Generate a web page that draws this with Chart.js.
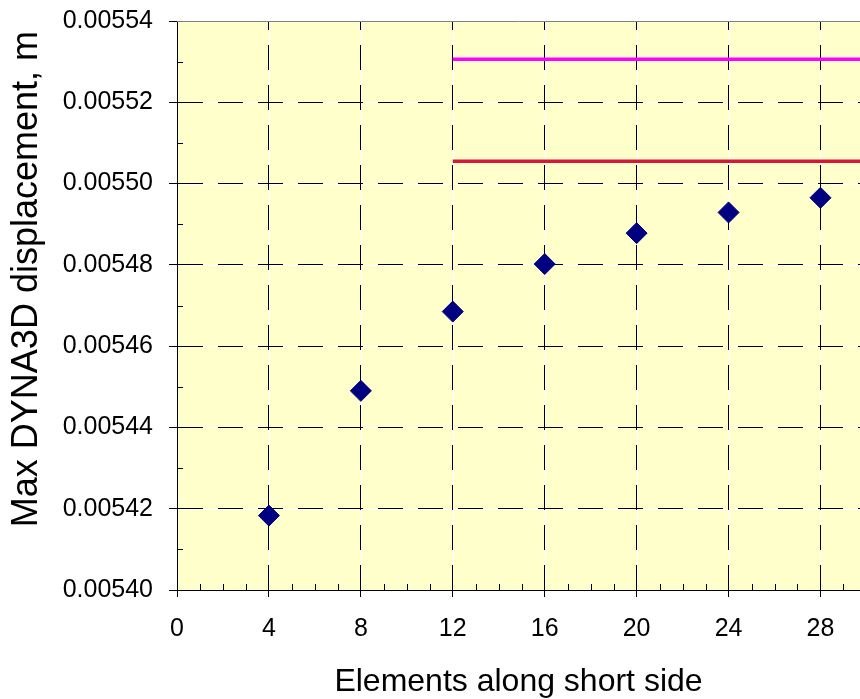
<!DOCTYPE html>
<html>
<head>
<meta charset="utf-8">
<script src="https://cdn.jsdelivr.net/npm/chart.js@4/dist/chart.umd.min.js"></script>
<style>
html,body{margin:0;padding:0;background:#ffffff;overflow:hidden;}
#wrap{width:860px;height:699px;}
canvas{display:block;}
</style>
</head>
<body>
<div id="wrap"><canvas id="c" width="860" height="699"></canvas></div>
<script>
// ---- data ----
const elements = [4, 8, 12, 16, 20, 24, 28];
const maxDisp = [0.0054183, 0.0054490, 0.0054685, 0.0054802, 0.0054878, 0.0054929, 0.0054965];
const refLineX = [12, 32];
const refUpper = [0.0055306, 0.0055306];
const refLower = [0.0055055, 0.0055055];
const xTicks = [0, 4, 8, 12, 16, 20, 24, 28];
const xMinor = [1, 2, 3, 5, 6, 7, 9, 10, 11, 13, 14, 15, 17, 18, 19, 21, 22, 23, 25, 26, 27, 29];
const yTicks = [0.00540, 0.00542, 0.00544, 0.00546, 0.00548, 0.00550, 0.00552, 0.00554];
const yMinor = [0.00541, 0.00543, 0.00545, 0.00547, 0.00549, 0.00551, 0.00553];
const xLabel = 'Elements along short side';
const yLabel = 'Max DYNA3D displacement, m';

const FONT = 'Liberation Sans, Arial, Helvetica, sans-serif';
Chart.defaults.font.family = FONT;
Chart.defaults.color = '#000000';

const plotDecor = {
  id: 'plotDecor',
  beforeDraw(chart) {
    const {ctx, chartArea: a, scales: {x, y}} = chart;
    ctx.save();
    ctx.fillStyle = '#FFFFCC';
    ctx.fillRect(a.left, a.top, a.right - a.left, a.bottom - a.top);
    ctx.strokeStyle = '#FFFFFF';
    ctx.lineWidth = 1;
    ctx.beginPath();
    xTicks.forEach(v => {
      const px = Math.round(x.getPixelForValue(v)) + 0.5;
      ctx.moveTo(px, a.top); ctx.lineTo(px, a.bottom);
    });
    yTicks.forEach(v => {
      const py = Math.round(y.getPixelForValue(v)) + 0.5;
      ctx.moveTo(a.left, py); ctx.lineTo(a.right, py);
    });
    ctx.stroke();
    ctx.restore();
  },
  afterDraw(chart) {
    const {ctx, chartArea: a, scales: {x, y}} = chart;
    ctx.save();
    // top border
    ctx.strokeStyle = '#808080';
    ctx.lineWidth = 1;
    ctx.beginPath();
    const ty = Math.round(a.top) + 0.5;
    ctx.moveTo(a.left, ty); ctx.lineTo(a.right, ty);
    ctx.stroke();
    // minor ticks (inside)
    ctx.strokeStyle = '#000000';
    ctx.beginPath();
    xMinor.forEach(v => {
      const px = Math.round(x.getPixelForValue(v)) + 0.5;
      if (px < a.right) { ctx.moveTo(px, a.bottom); ctx.lineTo(px, a.bottom - 6); }
    });
    yMinor.forEach(v => {
      const py = Math.round(y.getPixelForValue(v)) + 0.5;
      ctx.moveTo(a.left, py); ctx.lineTo(a.left + 6, py);
    });
    ctx.stroke();
    ctx.restore();
  }
};

new Chart(document.getElementById('c'), {
  type: 'scatter',
  data: {
    datasets: [
      {
        label: 'DYNA3D',
        data: elements.map((e, i) => ({x: e, y: maxDisp[i]})),
        pointStyle: 'rectRot',
        pointRadius: 10.5,
        pointBorderWidth: 1,
        backgroundColor: '#000080',
        borderColor: '#000080',
        showLine: false
      },
      {
        label: 'upper',
        data: refLineX.map((v, i) => ({x: v, y: refUpper[i]})),
        showLine: true,
        borderColor: '#FF00FF',
        backgroundColor: '#FF00FF',
        borderWidth: 3.5,
        pointRadius: 0
      },
      {
        label: 'lower',
        data: refLineX.map((v, i) => ({x: v, y: refLower[i]})),
        showLine: true,
        borderColor: '#D8163A',
        backgroundColor: '#D8163A',
        borderWidth: 3.5,
        pointRadius: 0
      }
    ]
  },
  options: {
    responsive: false,
    animation: false,
    devicePixelRatio: 1,
    layout: {autoPadding: false, padding: {top: 21, left: 0, right: 0, bottom: 0}},
    plugins: {legend: {display: false}, tooltip: {enabled: false}},
    scales: {
      x: {
        type: 'linear',
        min: 0,
        max: 29.72,
        afterBuildTicks: s => { s.ticks = xTicks.map(v => ({value: v})); },
        afterFit: s => { s.height = 109; s.paddingLeft = 0; s.paddingRight = 0; },
        border: {display: true, color: '#000000', width: 1, dash: [25, 15], dashOffset: 16},
        grid: {
          color: '#000000',
          lineWidth: 1,
          drawTicks: true,
          tickLength: 7,
          tickColor: '#000000',
          tickBorderDash: []
        },
        ticks: {
          color: '#000000',
          font: {family: FONT, size: 25},
          padding: 17,
          maxRotation: 0,
          autoSkip: false
        },
        title: {
          display: true,
          text: xLabel,
          color: '#000000',
          font: {family: FONT, size: 32, lineHeight: 1},
          padding: {top: 0, bottom: 1}
        }
      },
      y: {
        type: 'linear',
        min: 0.0054,
        max: 0.00554,
        afterBuildTicks: s => { s.ticks = yTicks.map(v => ({value: v})); },
        afterFit: s => { s.width = 177; s.paddingTop = 0; s.paddingBottom = 0; },
        border: {display: true, color: '#000000', width: 1, dash: [25, 15], dashOffset: 0},
        grid: {
          color: c => (c.tick && c.tick.value > 0.005539) ? 'rgba(0,0,0,0)' : '#000000',
          lineWidth: 1,
          drawTicks: true,
          tickLength: 8,
          tickColor: '#000000',
          tickBorderDash: []
        },
        ticks: {
          color: '#000000',
          font: {family: FONT, size: 25},
          padding: 16,
          autoSkip: false,
          callback: v => Number(v).toFixed(5)
        },
        title: {
          display: true,
          text: yLabel + ' ',
          align: 'end',
          color: '#000000',
          font: {family: FONT, size: 36, lineHeight: 1},
          padding: {top: 9, bottom: 0}
        }
      }
    }
  },
  plugins: [plotDecor]
});
</script>
</body>
</html>
